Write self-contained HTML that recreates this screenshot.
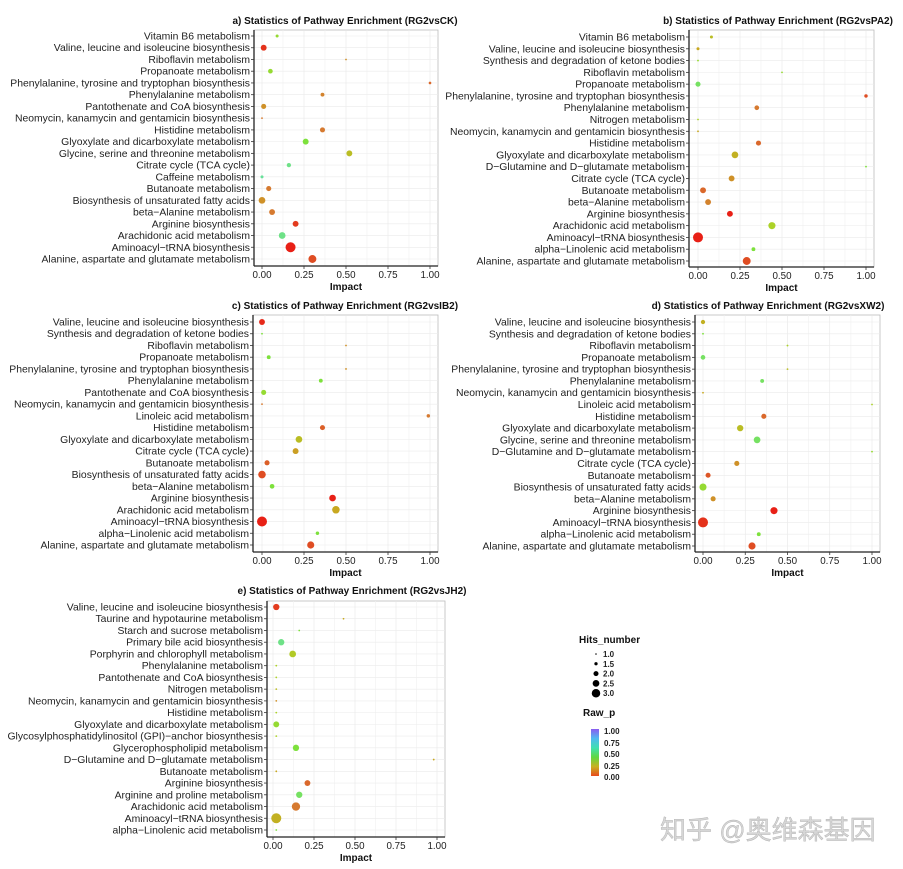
<!DOCTYPE html>
<html><head><meta charset="utf-8">
<style>
html,body{margin:0;padding:0;background:#fff;}
svg{display:block;font-family:"Liberation Sans",Arial,sans-serif;}
</style></head>
<body>
<svg id="fig" width="903" height="869" viewBox="0 0 903 869" xmlns="http://www.w3.org/2000/svg">
<rect width="903" height="869" fill="#fff"/>
<g id="legend">
<text x="579" y="643" font-size="10" font-weight="bold" fill="#111">Hits_number</text>
<text x="583" y="716" font-size="10" font-weight="bold" fill="#111">Raw_p</text>
<defs><linearGradient id="cbar" x1="0" y1="1" x2="0" y2="0">
<stop offset="0" stop-color="#e84a1c"/><stop offset="0.2" stop-color="#c9b020"/><stop offset="0.4" stop-color="#60d840"/><stop offset="0.6" stop-color="#40e0b0"/><stop offset="0.8" stop-color="#50b8f0"/><stop offset="1" stop-color="#8a5cf0"/></linearGradient></defs>
<rect x="591" y="729" width="8" height="47" fill="url(#cbar)"/>
<g font-size="8" font-weight="bold" fill="#222">
<text x="604" y="734">1.00</text><text x="604" y="746">0.75</text><text x="604" y="757">0.50</text><text x="604" y="769">0.25</text><text x="604" y="780">0.00</text>
</g>
</g>
<text x="660" y="839" font-size="26" fill="#d6d6d6" stroke="#b0b0b0" stroke-width="0.4" font-family="'Liberation Sans','Noto Sans CJK SC',sans-serif">知乎 @奥维森基因</text>
</svg>
<script>
const NS="http://www.w3.org/2000/svg";
const svg=document.getElementById('fig');

const labelsA=["Vitamin B6 metabolism","Valine, leucine and isoleucine biosynthesis","Riboflavin metabolism","Propanoate metabolism","Phenylalanine, tyrosine and tryptophan biosynthesis","Phenylalanine metabolism","Pantothenate and CoA biosynthesis","Neomycin, kanamycin and gentamicin biosynthesis","Histidine metabolism","Glyoxylate and dicarboxylate metabolism","Glycine, serine and threonine metabolism","Citrate cycle (TCA cycle)","Caffeine metabolism","Butanoate metabolism","Biosynthesis of unsaturated fatty acids","beta\u2212Alanine metabolism","Arginine biosynthesis","Arachidonic acid metabolism","Aminoacyl\u2212tRNA biosynthesis","Alanine, aspartate and glutamate metabolism"];
const impactA=[0.09,0.01,0.5,0.05,1.0,0.36,0.01,0.0,0.36,0.26,0.52,0.16,0.0,0.04,0.0,0.06,0.2,0.12,0.17,0.3];
const hitsA=[1.3,2,1,1.7,1.2,1.5,1.8,1,1.8,2,2,1.6,1.3,1.8,2.2,2,2,2.2,3,2.5];
const pA=[0.35,0.02,0.15,0.35,0.08,0.12,0.15,0.1,0.1,0.4,0.25,0.5,0.55,0.1,0.15,0.1,0.03,0.5,0.0,0.05];

const labelsB=["Vitamin B6 metabolism","Valine, leucine and isoleucine biosynthesis","Synthesis and degradation of ketone bodies","Riboflavin metabolism","Propanoate metabolism","Phenylalanine, tyrosine and tryptophan biosynthesis","Phenylalanine metabolism","Nitrogen metabolism","Neomycin, kanamycin and gentamicin biosynthesis","Histidine metabolism","Glyoxylate and dicarboxylate metabolism","D\u2212Glutamine and D\u2212glutamate metabolism","Citrate cycle (TCA cycle)","Butanoate metabolism","beta\u2212Alanine metabolism","Arginine biosynthesis","Arachidonic acid metabolism","Aminoacyl\u2212tRNA biosynthesis","alpha\u2212Linolenic acid metabolism","Alanine, aspartate and glutamate metabolism"];
const impactB=[0.08,0.0,0.0,0.5,0.0,1.0,0.35,0.0,0.0,0.36,0.22,1.0,0.2,0.03,0.06,0.19,0.44,0.0,0.33,0.29];
const hitsB=[1.3,1.3,1,1,1.8,1.4,1.7,1,1,1.8,2.2,1,2,2,2,2,2.3,3,1.5,2.5];
const pB=[0.25,0.2,0.35,0.35,0.45,0.05,0.1,0.3,0.2,0.08,0.22,0.4,0.15,0.08,0.12,0.0,0.3,0.0,0.4,0.05];

const labelsC=["Valine, leucine and isoleucine biosynthesis","Synthesis and degradation of ketone bodies","Riboflavin metabolism","Propanoate metabolism","Phenylalanine, tyrosine and tryptophan biosynthesis","Phenylalanine metabolism","Pantothenate and CoA biosynthesis","Neomycin, kanamycin and gentamicin biosynthesis","Linoleic acid metabolism","Histidine metabolism","Glyoxylate and dicarboxylate metabolism","Citrate cycle (TCA cycle)","Butanoate metabolism","Biosynthesis of unsaturated fatty acids","beta\u2212Alanine metabolism","Arginine biosynthesis","Arachidonic acid metabolism","Aminoacyl\u2212tRNA biosynthesis","alpha\u2212Linolenic acid metabolism","Alanine, aspartate and glutamate metabolism"];
const impactC=[0.0,0.0,0.5,0.04,0.5,0.35,0.01,0.0,0.99,0.36,0.22,0.2,0.03,0.0,0.06,0.42,0.44,0.0,0.33,0.29];
const hitsC=[2,1,1,1.5,1,1.5,1.8,1,1.4,1.8,2.2,2,1.8,2.4,1.7,2.2,2.4,3,1.4,2.3];
const pC=[0.01,0.4,0.15,0.4,0.15,0.4,0.35,0.1,0.1,0.07,0.25,0.18,0.07,0.05,0.4,0.0,0.2,0.0,0.4,0.05];

const labelsD=["Valine, leucine and isoleucine biosynthesis","Synthesis and degradation of ketone bodies","Riboflavin metabolism","Propanoate metabolism","Phenylalanine, tyrosine and tryptophan biosynthesis","Phenylalanine metabolism","Neomycin, kanamycin and gentamicin biosynthesis","Linoleic acid metabolism","Histidine metabolism","Glyoxylate and dicarboxylate metabolism","Glycine, serine and threonine metabolism","D\u2212Glutamine and D\u2212glutamate metabolism","Citrate cycle (TCA cycle)","Butanoate metabolism","Biosynthesis of unsaturated fatty acids","beta\u2212Alanine metabolism","Arginine biosynthesis","Aminoacyl\u2212tRNA biosynthesis","alpha\u2212Linolenic acid metabolism","Alanine, aspartate and glutamate metabolism"];
const impactD=[0.0,0.0,0.5,0.0,0.5,0.35,0.0,1.0,0.36,0.22,0.32,1.0,0.2,0.03,0.0,0.06,0.42,0.0,0.33,0.29];
const hitsD=[1.6,1,1,1.7,1,1.5,1,1,1.8,2.1,2.2,1,1.8,1.8,2.3,1.8,2.3,3,1.5,2.3];
const pD=[0.22,0.4,0.3,0.45,0.25,0.45,0.2,0.3,0.08,0.25,0.45,0.35,0.15,0.06,0.35,0.15,0.0,0.02,0.4,0.05];

const labelsE=["Valine, leucine and isoleucine biosynthesis","Taurine and hypotaurine metabolism","Starch and sucrose metabolism","Primary bile acid biosynthesis","Porphyrin and chlorophyll metabolism","Phenylalanine metabolism","Pantothenate and CoA biosynthesis","Nitrogen metabolism","Neomycin, kanamycin and gentamicin biosynthesis","Histidine metabolism","Glyoxylate and dicarboxylate metabolism","Glycosylphosphatidylinositol (GPI)\u2212anchor biosynthesis","Glycerophospholipid metabolism","D\u2212Glutamine and D\u2212glutamate metabolism","Butanoate metabolism","Arginine biosynthesis","Arginine and proline metabolism","Arachidonic acid metabolism","Aminoacyl\u2212tRNA biosynthesis","alpha\u2212Linolenic acid metabolism"];
const impactE=[0.02,0.43,0.16,0.05,0.12,0.02,0.02,0.02,0.02,0.02,0.02,0.02,0.14,0.98,0.02,0.21,0.16,0.14,0.02,0.02];
const hitsE=[2.1,1,1,2.1,2.2,1,1,1,1,1,2,1,2.1,1,1,2,2.1,2.6,3,1];
const pE=[0.03,0.2,0.4,0.5,0.28,0.3,0.3,0.25,0.15,0.3,0.35,0.3,0.4,0.2,0.2,0.08,0.45,0.1,0.22,0.4];

const xTicks=[0,0.25,0.5,0.75,1];
const xTickLabels=["0.00","0.25","0.50","0.75","1.00"];
const legendHits=[1.0,1.5,2.0,2.5,3.0];

const stops=[[0,[232,32,22]],[0.1,[214,122,48]],[0.2,[200,168,32]],[0.3,[172,210,40]],[0.4,[125,225,60]],[0.5,[110,225,135]],[0.75,[80,220,230]],[1,[130,90,240]]];
function col(p){for(let i=1;i<stops.length;i++){if(p<=stops[i][0]){const a=stops[i-1],b=stops[i];const t=(p-a[0])/(b[0]-a[0]);const c=a[1].map((v,k)=>Math.round(v+(b[1][k]-v)*t));return `rgb(${c})`;}}return 'rgb(130,90,240)';}
function rad(h){return 0.9+(h-1)*2.05;}
function mk(tag,attrs,parent){const e=document.createElementNS(NS,tag);for(const k in attrs)e.setAttribute(k,attrs[k]);(parent||svg).appendChild(e);return e;}

function panel(id,title,labels,impact,hits,p,L,R,T,B,x0,x1,y0,y1,titleX,titleY){
  const g=mk('g',{});
  
  
  const sx=v=>x0+(x1-x0)*v;
  const n=labels.length;
  const sy=i=>y0+(y1-y0)*i/(n-1);
  mk('rect',{x:L,y:T,width:R-L,height:B-T,fill:'#fff',stroke:'#bbb','stroke-width':0.8},g);
  for(let v=0;v<=1.0001;v+=0.125){mk('line',{x1:sx(v),x2:sx(v),y1:T,y2:B,stroke:v*8%2===0?'#e6e6e6':'#f1f1f1','stroke-width':0.6},g);}
  for(let i=0;i<n;i++){mk('line',{x1:L,x2:R,y1:sy(i),y2:sy(i),stroke:'#ebebeb','stroke-width':0.6},g);}
  mk('line',{x1:L,x2:L,y1:T,y2:B,stroke:'#222','stroke-width':1.3},g);
  mk('line',{x1:L,x2:R,y1:B,y2:B,stroke:'#222','stroke-width':1.3},g);
  const tt=mk('text',{x:titleX,y:titleY,'font-size':10,'font-weight':'bold','text-anchor':'middle',fill:'#111'},g);
  tt.textContent=title;
  
  
  for(let i=0;i<n;i++){
    mk('line',{x1:L-3,x2:L,y1:sy(i),y2:sy(i),stroke:'#333','stroke-width':0.8},g);
    const t=mk('text',{x:L-4,y:sy(i)+3.5,'font-size':10.4,'text-anchor':'end',fill:'#222'},g);
    t.textContent=labels[i];
    
    
  }
  xTicks.forEach((v,k)=>{
    mk('line',{x1:sx(v),x2:sx(v),y1:B,y2:B+3,stroke:'#333','stroke-width':0.8},g);
    const t=mk('text',{x:sx(v),y:B+12,'font-size':9.8,'text-anchor':'middle',fill:'#222'},g);
    t.textContent=xTickLabels[k];
    
    
  });
  const xt=mk('text',{x:(L+R)/2,y:B+24,'font-size':10,'font-weight':'bold','text-anchor':'middle',fill:'#111'},g);
  xt.textContent='Impact';
  
  
  for(let i=0;i<n;i++){
    const c=mk('circle',{cx:sx(impact[i]),cy:sy(i),r:rad(hits[i]),fill:col(p[i])},g);
    
    
  }
}
panel('a','a) Statistics of Pathway Enrichment (RG2vsCK)',labelsA,impactA,hitsA,pA,254,438,30,266,262,430,36,259,345,24);
panel('b','b) Statistics of Pathway Enrichment (RG2vsPA2)',labelsB,impactB,hitsB,pB,689,874,30,267,698,866,37,261,778,24);
panel('c','c) Statistics of Pathway Enrichment (RG2vsIB2)',labelsC,impactC,hitsC,pC,253,438,315,552,262,430,322,545,345,309);
panel('d','d) Statistics of Pathway Enrichment (RG2vsXW2)',labelsD,impactD,hitsD,pD,695,880,315,552,703,872,322,546,768,309);
panel('e','e) Statistics of Pathway Enrichment (RG2vsJH2)',labelsE,impactE,hitsE,pE,267,445,601,837,273,437,607,830,352,594);

const lg=document.getElementById('legend');
legendHits.forEach((h,i)=>{
  const y=654+i*9.8;
  const c=mk('circle',{cx:596,cy:y,r:rad(h)*0.85,fill:'#000'},lg);
  
  
  const t=mk('text',{x:603,y:y+3,'font-size':8,'font-weight':'bold',fill:'#222'},lg);
  t.textContent=h.toFixed(1);
  
  
});
</script>
</body></html>
